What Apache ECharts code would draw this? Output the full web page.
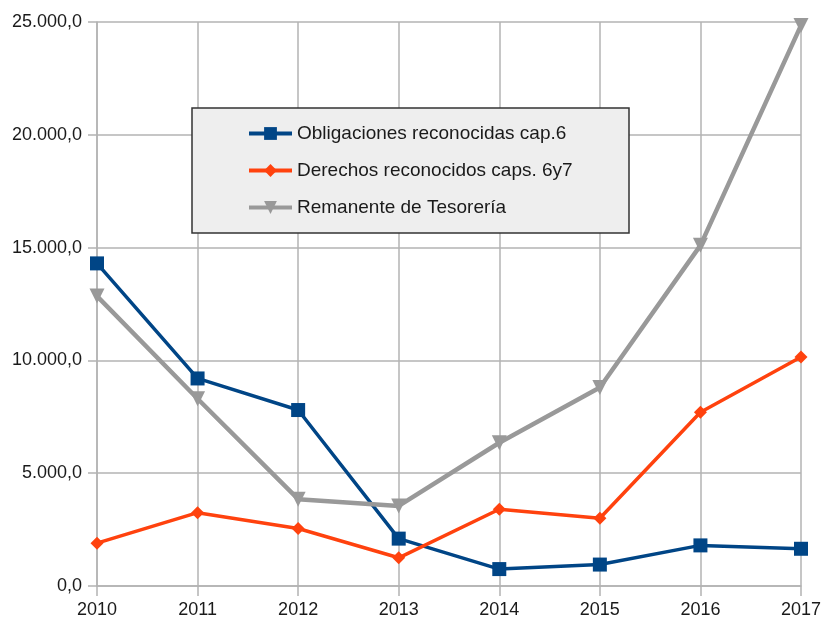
<!DOCTYPE html>
<html>
<head>
<meta charset="utf-8">
<script src="https://cdn.jsdelivr.net/npm/echarts@6/dist/echarts.min.js"></script>
<style>
  html, body { margin: 0; padding: 0; background: #fff; }
  #chart { width: 822px; height: 619px; }
</style>
</head>
<body>
<div id="chart"></div>
<script>
const years = ['2010', '2011', '2012', '2013', '2014', '2015', '2016', '2017']
const obligaciones = [14300, 9200, 7800, 2100, 750, 950, 1800, 1650]
const derechos = [1900, 3250, 2550, 1250, 3400, 3000, 7700, 10150]
const remanente = [12850, 8300, 3850, 3550, 6350, 8800, 15100, 24850]
const seriesNames = ['Obligaciones reconocidas cap.6', 'Derechos reconocidos caps. 6y7', 'Remanente de Tesorería']

const fontFamily = 'Liberation Sans, Arial, sans-serif'
const gridColor = '#b3b3b3'

function fmt(v) {
    const s = Math.round(v).toString().replace(/\B(?=(\d{3})+(?!\d))/g, '.')
    return s + ',0'
}

var chartDom = document.getElementById('chart')
var myChart = echarts.init(chartDom)

var option = {
    backgroundColor: '#ffffff',
    animation: false,
    textStyle: { fontFamily: fontFamily },
    grid: { left: 97, right: 21, top: 22, bottom: 33, outerBoundsMode: 'none', containLabel: false },
    graphic: [
        {
            type: 'rect',
            z: 5,
            shape: { x: 192, y: 108, width: 437, height: 125 },
            style: { fill: '#eeeeee', stroke: '#333333', lineWidth: 1.5 }
        }
    ],
    legend: {
        orient: 'vertical',
        left: 242,
        top: 119,
        z: 10,
        itemWidth: 43,
        itemHeight: 16,
        itemGap: 18,
        lineStyle: { width: 4 },
        textStyle: { fontSize: 19, color: '#1a1a1a', fontFamily: fontFamily },
        data: seriesNames
    },
    xAxis: {
        type: 'category',
        boundaryGap: false,
        data: years,
        axisLine: { lineStyle: { color: gridColor, width: 1.5 } },
        axisTick: { show: true, length: 10, lineStyle: { color: gridColor, width: 1.5 } },
        axisLabel: { fontSize: 18, color: '#1a1a1a', margin: 15, fontFamily: fontFamily },
        splitLine: { show: true, lineStyle: { color: gridColor, width: 1.5 } }
    },
    yAxis: {
        type: 'value',
        min: 0,
        max: 25000,
        interval: 5000,
        axisLine: { show: true, lineStyle: { color: gridColor, width: 1.5 } },
        axisTick: { show: true, length: 9, lineStyle: { color: gridColor, width: 1.5 } },
        axisLabel: { fontSize: 18, color: '#1a1a1a', margin: 15, fontFamily: fontFamily, formatter: fmt },
        splitLine: { show: true, lineStyle: { color: gridColor, width: 1.5 } }
    },
    series: [
        {
            name: seriesNames[0],
            type: 'line',
            data: obligaciones,
            symbol: 'rect',
            symbolSize: 14,
            lineStyle: { color: '#004586', width: 3.5 },
            itemStyle: { color: '#004586' }
        },
        {
            name: seriesNames[1],
            type: 'line',
            data: derechos,
            symbol: 'diamond',
            symbolSize: 13,
            lineStyle: { color: '#ff420e', width: 3.5 },
            itemStyle: { color: '#ff420e' }
        },
        {
            name: seriesNames[2],
            type: 'line',
            data: remanente,
            symbol: 'triangle',
            symbolRotate: 180,
            symbolSize: 15,
            lineStyle: { color: '#999999', width: 4.5 },
            itemStyle: { color: '#999999' }
        }
    ]
}

option && myChart.setOption(option)
</script>
</body>
</html>
